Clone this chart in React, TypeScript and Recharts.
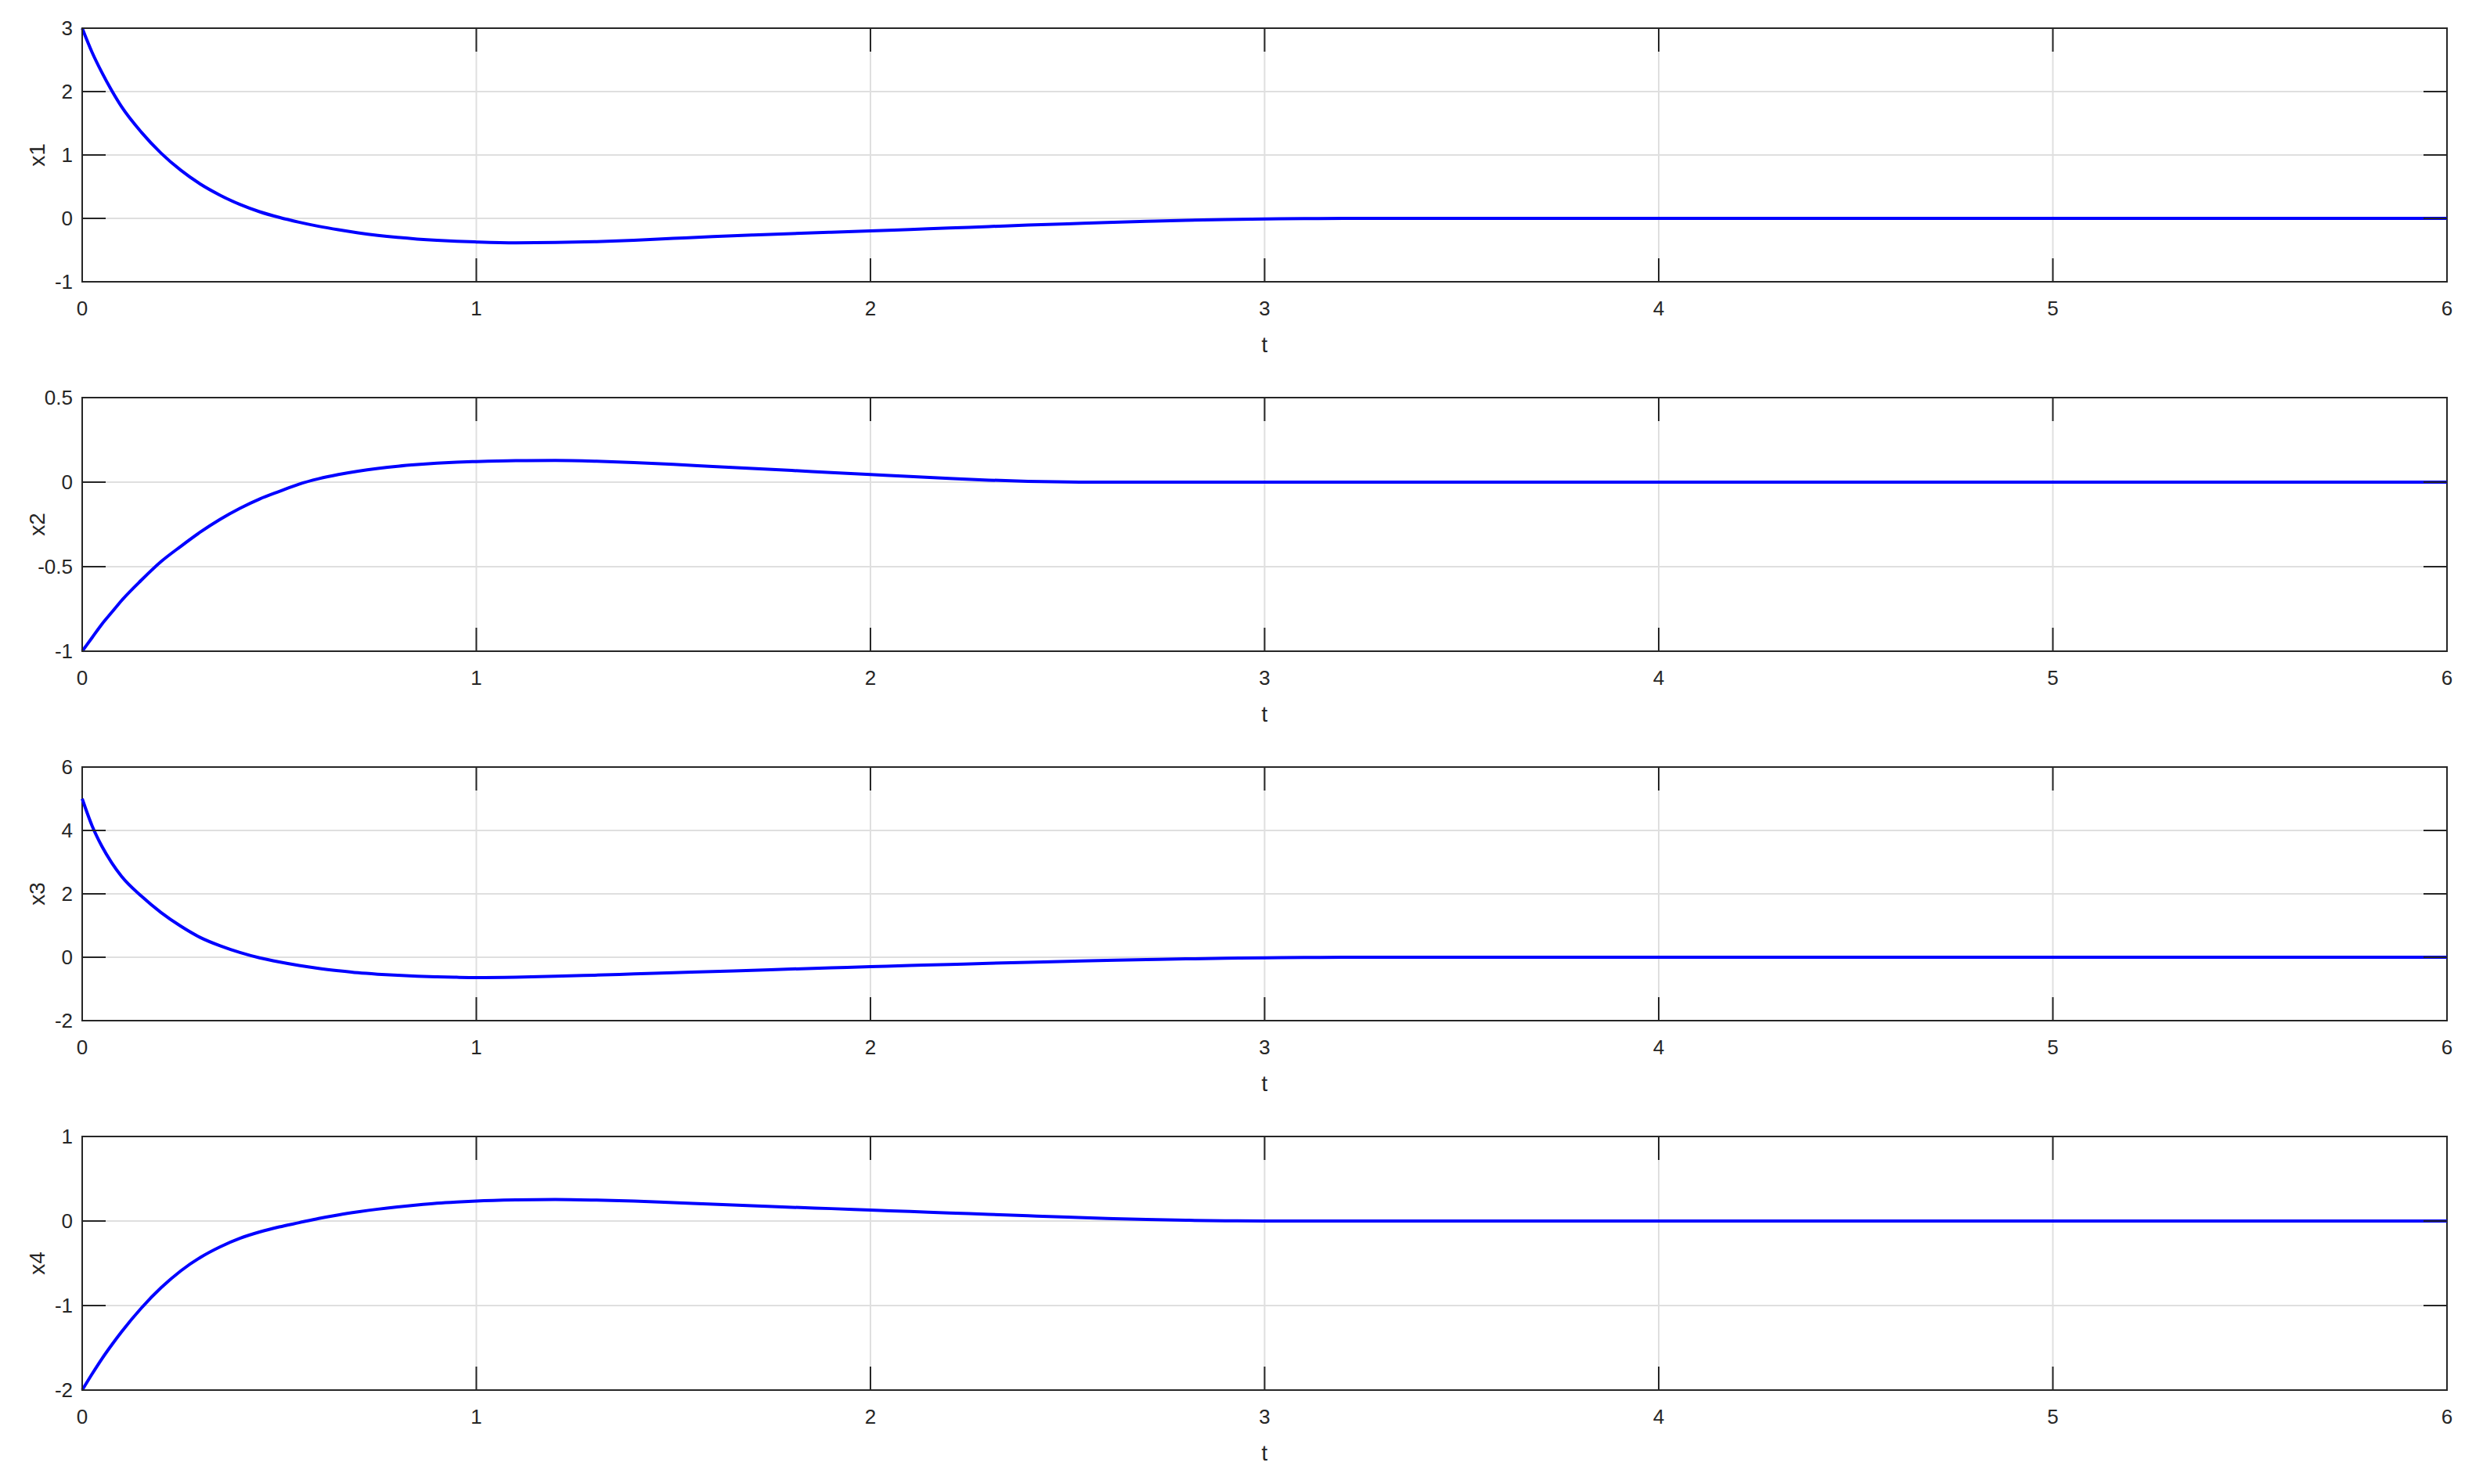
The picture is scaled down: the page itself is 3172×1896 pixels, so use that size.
import { LineChart, Line, XAxis, YAxis, CartesianGrid, ReferenceArea } from 'recharts'

// time samples (s)
const T = [
  0, 0.025, 0.05, 0.075, 0.1, 0.15, 0.2, 0.25, 0.3, 0.35, 0.4, 0.45, 0.5, 0.55, 0.6, 0.65, 0.7, 0.75, 0.8, 0.85, 0.9, 0.95, 1.0,
  1.1, 1.2, 1.3, 1.4, 1.5, 1.6, 1.7, 1.8, 1.9, 2.0, 2.1, 2.2, 2.3, 2.4, 2.5, 2.6, 2.7, 2.8, 2.9, 3.0, 3.1, 3.2, 3.3, 3.4, 4, 5, 6,
]

const X1 = [
  3, 2.62, 2.3, 2.015, 1.76, 1.36, 1.03, 0.76, 0.54, 0.365, 0.22, 0.105, 0.015, -0.06, -0.125, -0.18, -0.228, -0.268, -0.3, -0.326, -0.346, -0.361, -0.372,
  -0.385, -0.381, -0.368, -0.345, -0.316, -0.288, -0.263, -0.24, -0.219, -0.198, -0.175, -0.152, -0.129, -0.106, -0.085, -0.064, -0.046, -0.03, -0.018, -0.01, -0.004, -0.001, 0, 0, 0, 0, 0,
]
const X2 = [
  -1, -0.92, -0.84, -0.77, -0.7, -0.58, -0.47, -0.38, -0.295, -0.22, -0.155, -0.1, -0.055, -0.012, 0.02, 0.045, 0.065, 0.081, 0.094, 0.104, 0.112, 0.118, 0.122,
  0.127, 0.128, 0.124, 0.116, 0.105, 0.093, 0.081, 0.069, 0.057, 0.045, 0.033, 0.022, 0.012, 0.005, 0.001, 0, 0, 0, 0, 0, 0, 0, 0, 0, 0, 0, 0,
]
const X3 = [
  5, 4.15, 3.5, 2.98, 2.55, 1.93, 1.41, 0.98, 0.62, 0.36, 0.15, -0.02, -0.15, -0.26, -0.35, -0.425, -0.49, -0.535, -0.57, -0.598, -0.618, -0.632, -0.64,
  -0.628, -0.6, -0.565, -0.527, -0.488, -0.45, -0.411, -0.372, -0.334, -0.297, -0.261, -0.226, -0.192, -0.16, -0.129, -0.1, -0.074, -0.051, -0.033, -0.019, -0.009, -0.003, 0, 0, 0, 0, 0,
]
const X4 = [
  -2, -1.81, -1.63, -1.465, -1.31, -1.03, -0.79, -0.59, -0.43, -0.305, -0.205, -0.13, -0.07, -0.02, 0.03, 0.072, 0.108, 0.14, 0.167, 0.19, 0.21, 0.225, 0.237,
  0.25, 0.255, 0.248, 0.235, 0.217, 0.199, 0.181, 0.163, 0.147, 0.13, 0.113, 0.096, 0.079, 0.062, 0.046, 0.031, 0.018, 0.009, 0.003, 0, 0, 0, 0, 0, 0, 0, 0,
]

const T_TICKS = [0, 1, 2, 3, 4, 5, 6]
const X1_TICKS = [-1, 0, 1, 2, 3]
const X2_TICKS = [-1, -0.5, 0, 0.5]
const X3_TICKS = [-2, 0, 2, 4, 6]
const X4_TICKS = [-2, -1, 0, 1]

const data = T.map((t, i) => ({ t, x1: X1[i], x2: X2[i], x3: X3[i], x4: X4[i] }))

const W = 3172
const H = 472
const LEFT = 105
const RIGHT = 3126
const TOP = 36
const BOTTOM = 360
const TICK_LEN = 30
const AX = '#262626'
const FONT = '"Liberation Sans", Arial, sans-serif'

const XTick = ({ x, payload }: any) => (
  <g>
    <line x1={x} x2={x} y1={TOP} y2={TOP + TICK_LEN} stroke={AX} strokeWidth={2} />
    <line x1={x} x2={x} y1={BOTTOM - TICK_LEN} y2={BOTTOM} stroke={AX} strokeWidth={2} />
    <text x={x} y={BOTTOM + 34} textAnchor="middle" dominantBaseline="central" fill={AX} fontSize={26} fontFamily={FONT}>
      {payload.value}
    </text>
  </g>
)

const YTick = ({ y, payload }: any) => (
  <g>
    <line x1={LEFT} x2={LEFT + TICK_LEN} y1={y} y2={y} stroke={AX} strokeWidth={2} />
    <line x1={RIGHT - TICK_LEN} x2={RIGHT} y1={y} y2={y} stroke={AX} strokeWidth={2} />
    <text x={LEFT - 12} y={y} textAnchor="end" dominantBaseline="central" fill={AX} fontSize={26} fontFamily={FONT}>
      {payload.value}
    </text>
  </g>
)

interface PanelProps {
  dataKey: string
  ticks: number[]
}

const Panel = ({ dataKey, ticks }: PanelProps) => {
  const lo = ticks[0]
  const hi = ticks[ticks.length - 1]
  const midY = (TOP + BOTTOM) / 2
  return (
    <LineChart width={W} height={H} data={data} margin={{ top: TOP, right: W - RIGHT, bottom: 0, left: 0 }}>
      <CartesianGrid stroke="#dfdfdf" strokeWidth={2} />
      <XAxis
        dataKey="t"
        type="number"
        domain={[0, 6]}
        ticks={T_TICKS}
        interval={0}
        height={H - BOTTOM}
        axisLine={false}
        tickLine={false}
        tick={<XTick />}
        label={{
          content: () => (
            <text x={(LEFT + RIGHT) / 2} y={BOTTOM + 80} textAnchor="middle" dominantBaseline="central" fill={AX} fontSize={28} fontFamily={FONT}>
              t
            </text>
          ),
        }}
      />
      <YAxis
        type="number"
        domain={[lo, hi]}
        ticks={ticks}
        interval={0}
        width={LEFT}
        axisLine={false}
        tickLine={false}
        tick={<YTick />}
        label={{
          content: () => (
            <text
              x={47}
              y={midY}
              transform={`rotate(-90, 47, ${midY})`}
              textAnchor="middle"
              dominantBaseline="central"
              fill={AX}
              fontSize={28}
              fontFamily={FONT}
            >
              {dataKey}
            </text>
          ),
        }}
      />
      <ReferenceArea x1={0} x2={6} y1={lo} y2={hi} fill="none" stroke={AX} strokeWidth={2} ifOverflow="visible" />
      <Line type="monotone" dataKey={dataKey} stroke="#0000ff" strokeWidth={4} dot={false} isAnimationActive={false} />
    </LineChart>
  )
}

export default function App() {
  return (
    <div style={{ position: 'absolute', left: 0, top: 0, width: W, height: 1896, background: '#fff' }}>
      <Panel dataKey="x1" ticks={X1_TICKS} />
      <Panel dataKey="x2" ticks={X2_TICKS} />
      <Panel dataKey="x3" ticks={X3_TICKS} />
      <Panel dataKey="x4" ticks={X4_TICKS} />
    </div>
  )
}
